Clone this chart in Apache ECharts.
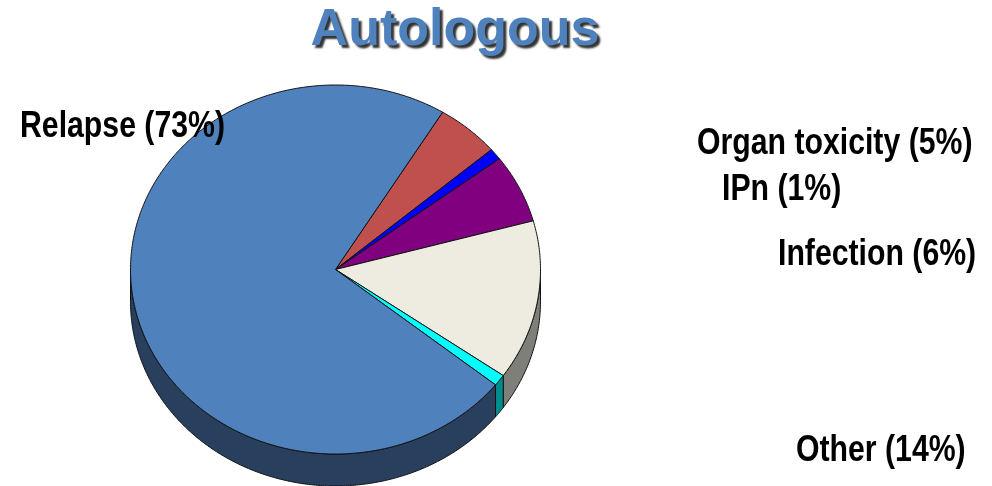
<!DOCTYPE html>
<html>
<head>
<meta charset="utf-8">
<script src="https://cdn.jsdelivr.net/npm/echarts@6/dist/echarts.min.js"></script>
<style>
  html, body { margin: 0; padding: 0; background: #ffffff; }
  #chart { width: 992px; height: 486px; }
</style>
</head>
<body>
<div id="chart"></div>
<script>
// Causes of death after autologous transplant (% of deaths), listed clockwise
const categories = ['Organ toxicity', 'IPn', 'Infection', 'Other', 'Unreported', 'Relapse'];
const percentValues = [5, 1, 6, 14, 1, 73];
const labelled = [true, true, true, true, false, true];

// Face and rim colours per slice
const topColors = ['#C0504D', '#0000FF', '#800080', '#EEECE1', '#00FFFF', '#4F81BD'];
const sideColors = ['#7A302E', '#000090', '#4A004A', '#7F7F79', '#008C8C', '#283F5E'];

// Tilted-disc geometry (pixels) and where each caption sits
const geom = { cx: 335.5, cy: 269.5, rx: 205, ry: 184.5, depth: 32, startDeg: 58.5 };
const labelAnchors = {
  'Relapse': [20, 126.5],
  'Organ toxicity': [697, 143.5],
  'IPn': [722, 189.5],
  'Infection': [778, 254.5],
  'Other': [796, 450.5]
};
const labelFont = 'bold 37px "Liberation Sans", Arial, sans-serif';
const labelSqueeze = 0.817; // narrow bold look

// Start/end angle (degrees, counter-clockwise from 3 o'clock) of every slice
const total = percentValues.reduce((s, v) => s + v, 0);
const sliceAngles = [];
let acc = 0;
percentValues.forEach(v => {
  const a1 = geom.startDeg - 360 * acc / total;
  acc += v;
  const a2 = geom.startDeg - 360 * acc / total;
  sliceAngles.push([a1, a2]);
});

function pointAt(deg, drop) {
  const r = deg * Math.PI / 180;
  return [geom.cx + geom.rx * Math.cos(r), geom.cy - geom.ry * Math.sin(r) + drop];
}

// Points along the rim from a1 down to a2
function arc(a1, a2, drop) {
  const n = Math.max(2, Math.ceil(Math.abs(a1 - a2) / 0.5));
  const pts = [];
  for (let k = 0; k <= n; k++) pts.push(pointAt(a1 + (a2 - a1) * k / n, drop));
  return pts;
}

// Parts of a slice's angular range that face the viewer (lower half of the disc)
function frontRanges(a1, a2) {
  const out = [];
  for (let n = -2; n <= 1; n++) {
    const lo = -180 + 360 * n, hi = 0 + 360 * n;
    const s = Math.min(a1, hi), e = Math.max(a2, lo);
    if (s > e) out.push([s, e]);
  }
  return out;
}

const seriesData = percentValues.map((v, i) => ({ name: categories[i], value: v }));

function renderSide(params, api) {
  const i = params.dataIndex;
  const [a1, a2] = sliceAngles[i];
  const children = frontRanges(a1, a2).map(([s, e]) => {
    const upper = arc(s, e, 0);
    const lower = arc(s, e, geom.depth).reverse();
    return {
      type: 'polygon',
      shape: { points: upper.concat(lower) },
      style: { fill: sideColors[i], stroke: '#111111', lineWidth: 1, lineJoin: 'round' }
    };
  });
  return { type: 'group', children };
}

function renderTop(params, api) {
  const i = params.dataIndex;
  const [a1, a2] = sliceAngles[i];
  const pts = [[geom.cx, geom.cy]].concat(arc(a1, a2, 0));
  const children = [{
    type: 'polygon',
    shape: { points: pts },
    style: { fill: topColors[i], stroke: '#111111', lineWidth: 1, lineJoin: 'round' }
  }];
  const name = categories[i];
  if (labelled[i]) {
    const pos = labelAnchors[name];
    children.push({
      type: 'text',
      x: pos[0], y: pos[1],
      scaleX: labelSqueeze,
      z2: 50,
      style: {
        text: name + ' (' + api.value(0) + '%)',
        fill: '#000000',
        font: labelFont,
        align: 'left',
        verticalAlign: 'middle'
      }
    });
  }
  return { type: 'group', children };
}

const chart = echarts.init(document.getElementById('chart'), null, { renderer: 'canvas' });
chart.setOption({
  backgroundColor: '#ffffff',
  animation: false,
  title: {
    text: 'Autologous',
    left: 455,
    top: 5,
    textAlign: 'center',
    padding: 0,
    textStyle: {
      fontFamily: '"Liberation Sans", Arial, sans-serif',
      fontWeight: 'bold',
      fontSize: 52,
      color: '#4F81BD',
      textShadowColor: 'rgba(0,0,0,0.8)',
      textShadowBlur: 2,
      textShadowOffsetX: 3,
      textShadowOffsetY: 3
    }
  },
  series: [
    {
      type: 'custom',
      name: 'rim',
      coordinateSystem: 'none',
      silent: true,
      z: 1,
      data: seriesData,
      renderItem: renderSide
    },
    {
      type: 'custom',
      name: 'faces',
      coordinateSystem: 'none',
      silent: true,
      z: 2,
      data: seriesData,
      renderItem: renderTop
    }
  ]
});
</script>
</body>
</html>
